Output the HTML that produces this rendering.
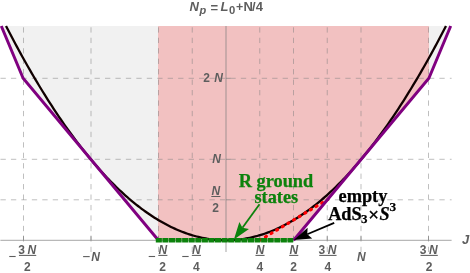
<!DOCTYPE html>
<html><head><meta charset="utf-8"><style>
html,body{margin:0;padding:0;background:#fff;}
svg{display:block;will-change:transform}
.lb{font-family:"Liberation Sans",sans-serif;font-weight:bold;font-size:12px;fill:#5e5e5e}
.it{font-style:italic}
.ser{font-family:"Liberation Serif",serif;font-weight:bold;font-size:18.3px}
</style></head><body>
<svg width="470" height="273" viewBox="0 0 470 273">
<rect width="470" height="273" fill="#fff"/>
<polygon points="1.29,26.00 23.12,78.30 158.38,240.30 158.0,240.3 158.0,26.0" fill="#f1f1f1"/>
<polygon points="450.71,26.00 428.88,78.30 429.0,78.30000000000001 429.0,26.0" fill="#f1f1f1"/>
<polygon points="158.0,26.0 158.0,240.3 293.62,240.30 428.88,78.30 429.0,77.30000000000001 429.0,26.0" fill="#f2c1c1"/>
<g stroke="#808080" stroke-opacity="0.5" stroke-width="1" stroke-dasharray="5.3 5.15" fill="none">
<line x1="23.50" y1="27.3" x2="23.50" y2="252.0"/>
<line x1="91.00" y1="27.3" x2="91.00" y2="252.0"/>
<line x1="158.50" y1="27.3" x2="158.50" y2="252.0"/>
<line x1="192.25" y1="27.3" x2="192.25" y2="252.0"/>
<line x1="259.75" y1="27.3" x2="259.75" y2="252.0"/>
<line x1="293.50" y1="27.3" x2="293.50" y2="252.0"/>
<line x1="327.25" y1="27.3" x2="327.25" y2="252.0"/>
<line x1="361.00" y1="27.3" x2="361.00" y2="252.0"/>
<line x1="428.50" y1="27.3" x2="428.50" y2="252.0"/>
<line x1="0.5" y1="199.80" x2="451.6" y2="199.80"/>
<line x1="0.5" y1="159.30" x2="451.6" y2="159.30"/>
<line x1="0.5" y1="78.30" x2="451.6" y2="78.30"/>
</g>
<g stroke="#808080" stroke-opacity="0.78" stroke-width="0.9">
<line x1="0.4" y1="240.3" x2="451.6" y2="240.3"/>
<line x1="226.0" y1="26.0" x2="226.0" y2="252.0"/>
<line x1="23.50" y1="240.3" x2="23.50" y2="235.70000000000002"/>
<line x1="91.00" y1="240.3" x2="91.00" y2="235.70000000000002"/>
<line x1="158.50" y1="240.3" x2="158.50" y2="235.70000000000002"/>
<line x1="192.25" y1="240.3" x2="192.25" y2="235.70000000000002"/>
<line x1="259.75" y1="240.3" x2="259.75" y2="235.70000000000002"/>
<line x1="293.50" y1="240.3" x2="293.50" y2="235.70000000000002"/>
<line x1="327.25" y1="240.3" x2="327.25" y2="235.70000000000002"/>
<line x1="361.00" y1="240.3" x2="361.00" y2="235.70000000000002"/>
<line x1="428.50" y1="240.3" x2="428.50" y2="235.70000000000002"/>
<line x1="226.0" y1="199.80" x2="230.6" y2="199.80"/>
<line x1="226.0" y1="159.30" x2="230.6" y2="159.30"/>
<line x1="226.0" y1="78.30" x2="230.6" y2="78.30"/>
</g>
<polyline points="6.01,26.00 7.84,29.56 9.68,33.08 11.51,36.58 13.34,40.05 15.17,43.49 17.01,46.89 18.84,50.27 20.67,53.62 22.51,56.94 24.34,60.23 26.17,63.49 28.01,66.72 29.84,69.92 31.67,73.09 33.51,76.23 35.34,79.34 37.17,82.42 39.01,85.47 40.84,88.49 42.67,91.48 44.51,94.44 46.34,97.37 48.17,100.28 50.01,103.15 51.84,105.99 53.67,108.80 55.51,111.59 57.34,114.34 59.17,117.06 61.01,119.76 62.84,122.42 64.67,125.05 66.51,127.66 68.34,130.23 70.17,132.78 72.01,135.29 73.84,137.78 75.67,140.23 77.51,142.66 79.34,145.06 81.17,147.42 83.01,149.76 84.84,152.06 86.67,154.34 88.51,156.59 90.34,158.81 92.17,160.99 94.01,163.15 95.84,165.28 97.67,167.38 99.50,169.45 101.34,171.49 103.17,173.49 105.00,175.47 106.84,177.42 108.67,179.34 110.50,181.23 112.34,183.09 114.17,184.92 116.00,186.73 117.84,188.50 119.67,190.24 121.50,191.95 123.34,193.63 125.17,195.28 127.00,196.90 128.84,198.50 130.67,200.06 132.50,201.59 134.34,203.10 136.17,204.57 138.00,206.01 139.84,207.43 141.67,208.81 143.50,210.16 145.34,211.49 147.17,212.78 149.00,214.05 150.84,215.28 152.67,216.49 154.50,217.66 156.34,218.81 158.17,219.93 160.00,221.01 161.84,222.07 163.67,223.10 165.50,224.09 167.34,225.06 169.17,226.00 171.00,226.91 172.84,227.78 174.67,228.63 176.50,229.45 178.34,230.24 180.17,231.00 182.00,231.73 183.83,232.43 185.67,233.10 187.50,233.74 189.33,234.35 191.17,234.93 193.00,235.48 194.83,236.00 196.67,236.49 198.50,236.95 200.33,237.38 202.17,237.78 204.00,238.16 205.83,238.50 207.67,238.81 209.50,239.09 211.33,239.35 213.17,239.57 215.00,239.76 216.83,239.93 218.67,240.06 220.50,240.17 222.33,240.24 224.17,240.29 226.00,240.30 227.83,240.29 229.67,240.24 231.50,240.17 233.33,240.06 235.17,239.93 237.00,239.76 238.83,239.57 240.67,239.35 242.50,239.09 244.33,238.81 246.17,238.50 248.00,238.16 249.83,237.78 251.67,237.38 253.50,236.95 255.33,236.49 257.17,236.00 259.00,235.48 260.83,234.93 262.67,234.35 264.50,233.74 266.33,233.10 268.17,232.43 270.00,231.73 271.83,231.00 273.66,230.24 275.50,229.45 277.33,228.63 279.16,227.78 281.00,226.91 282.83,226.00 284.66,225.06 286.50,224.09 288.33,223.10 290.16,222.07 292.00,221.01 293.83,219.93 295.66,218.81 297.50,217.66 299.33,216.49 301.16,215.28 303.00,214.05 304.83,212.78 306.66,211.49 308.50,210.16 310.33,208.81 312.16,207.43 314.00,206.01 315.83,204.57 317.66,203.10 319.50,201.59 321.33,200.06 323.16,198.50 325.00,196.90 326.83,195.28 328.66,193.63 330.50,191.95 332.33,190.24 334.16,188.50 336.00,186.73 337.83,184.92 339.66,183.09 341.50,181.23 343.33,179.34 345.16,177.42 347.00,175.47 348.83,173.49 350.66,171.49 352.50,169.45 354.33,167.38 356.16,165.28 357.99,163.15 359.83,160.99 361.66,158.81 363.49,156.59 365.33,154.34 367.16,152.06 368.99,149.76 370.83,147.42 372.66,145.06 374.49,142.66 376.33,140.23 378.16,137.78 379.99,135.29 381.83,132.78 383.66,130.23 385.49,127.66 387.33,125.05 389.16,122.42 390.99,119.76 392.83,117.06 394.66,114.34 396.49,111.59 398.33,108.80 400.16,105.99 401.99,103.15 403.83,100.28 405.66,97.37 407.49,94.44 409.33,91.48 411.16,88.49 412.99,85.47 414.83,82.42 416.66,79.34 418.49,76.23 420.33,73.09 422.16,69.92 423.99,66.72 425.83,63.49 427.66,60.23 429.49,56.94 431.33,53.62 433.16,50.27 434.99,46.89 436.83,43.49 438.66,40.05 440.49,36.58 442.32,33.08 444.16,29.56 445.99,26.00" fill="none" stroke="#100000" stroke-width="2.3"/>
<g fill="#f00"><line x1="259.82" y1="240.26" x2="327.75" y2="199.50" stroke="#f00" stroke-width="3.15" stroke-linecap="round" stroke-dasharray="1.1 5.46"/></g>
<polyline points="1.29,26.00 23.12,78.30 158.38,240.30" fill="none" stroke="#800080" stroke-width="2.95" stroke-linejoin="miter"/>
<polyline points="293.62,240.30 428.88,78.30 450.71,26.00" fill="none" stroke="#800080" stroke-width="2.95" stroke-linejoin="miter"/>
<line x1="155.8" y1="240.3" x2="293.2" y2="240.3" stroke="#0c820c" stroke-width="4.5" stroke-dasharray="6.08 0.5"/>
<!-- title -->
<g class="lb" style="font-size:13px"><text x="189.5" y="11.2" class="it">N</text><text x="199.6" y="13.9" class="it" style="font-size:11px">p</text><text x="210.6" y="11.6">=</text><text x="220.5" y="11.2" class="it">L</text><text x="229.1" y="14.2" style="font-size:11.3px">0</text><text x="236.1" y="11.2" style="font-size:12.4px">+</text><text x="243.5" y="11.2">N</text><text x="252" y="11.2">/</text><text x="255.7" y="11.2">4</text></g>
<text x="21.65" y="254.2" text-anchor="middle" class="lb">3</text><text x="31.85" y="254.2" text-anchor="middle" class="lb it">N</text><line x1="18.95" y1="255.4" x2="36.25" y2="255.4" stroke="#5e5e5e" stroke-width="1.05"/><text x="27.45" y="271.4" text-anchor="middle" class="lb">2</text><line x1="9.25" y1="256.5" x2="15.65" y2="256.5" stroke="#5e5e5e" stroke-width="1.1"/><text x="162.90" y="254.2" text-anchor="middle" class="lb it">N</text><line x1="158.30" y1="255.4" x2="167.40" y2="255.4" stroke="#5e5e5e" stroke-width="1.05"/><text x="162.70" y="271.4" text-anchor="middle" class="lb">2</text><line x1="148.70" y1="256.5" x2="155.10" y2="256.5" stroke="#5e5e5e" stroke-width="1.1"/><text x="196.45" y="254.2" text-anchor="middle" class="lb it">N</text><line x1="191.85" y1="255.4" x2="200.95" y2="255.4" stroke="#5e5e5e" stroke-width="1.05"/><text x="196.25" y="271.4" text-anchor="middle" class="lb">4</text><line x1="182.25" y1="256.5" x2="188.65" y2="256.5" stroke="#5e5e5e" stroke-width="1.1"/><text x="260.05" y="254.2" text-anchor="middle" class="lb it">N</text><line x1="255.45" y1="255.4" x2="264.55" y2="255.4" stroke="#5e5e5e" stroke-width="1.05"/><text x="259.85" y="271.4" text-anchor="middle" class="lb">4</text><text x="293.80" y="254.2" text-anchor="middle" class="lb it">N</text><line x1="289.20" y1="255.4" x2="298.30" y2="255.4" stroke="#5e5e5e" stroke-width="1.05"/><text x="293.60" y="271.4" text-anchor="middle" class="lb">2</text><text x="321.95" y="254.2" text-anchor="middle" class="lb">3</text><text x="332.15" y="254.2" text-anchor="middle" class="lb it">N</text><line x1="319.25" y1="255.4" x2="336.55" y2="255.4" stroke="#5e5e5e" stroke-width="1.05"/><text x="327.75" y="271.4" text-anchor="middle" class="lb">4</text><text x="423.20" y="254.2" text-anchor="middle" class="lb">3</text><text x="433.40" y="254.2" text-anchor="middle" class="lb it">N</text><line x1="420.50" y1="255.4" x2="437.80" y2="255.4" stroke="#5e5e5e" stroke-width="1.05"/><text x="429.00" y="271.4" text-anchor="middle" class="lb">2</text><text x="95.50" y="260.6" text-anchor="middle" class="lb it">N</text><line x1="83.10" y1="256.6" x2="89.70" y2="256.6" stroke="#5e5e5e" stroke-width="1.1"/><text x="361.30" y="260.6" text-anchor="middle" class="lb it">N</text><text x="206.60" y="82.4" text-anchor="middle" class="lb">2</text><text x="218.60" y="82.4" text-anchor="middle" class="lb it">N</text><text x="216.50" y="162.6" text-anchor="middle" class="lb it">N</text><text x="215.90" y="195.2" text-anchor="middle" class="lb it">N</text><line x1="211.30" y1="196.5" x2="220.40" y2="196.5" stroke="#5e5e5e" stroke-width="1.05"/><text x="215.50" y="212.3" text-anchor="middle" class="lb">2</text>
<text x="462" y="244" class="lb it" style="font-size:13px">J</text>
<!-- annotations -->
<g fill="#0c820c" stroke="#0c820c" stroke-width="0.25"><text x="276" y="186.8" text-anchor="middle" class="ser">R ground</text>
<text x="276.3" y="202.7" text-anchor="middle" class="ser">states</text></g>
<line x1="259.5" y1="204.2" x2="242.46" y2="227.77" stroke="#0c820c" stroke-width="1.8"/><polygon points="233.90,239.60 248.94,228.88 242.46,227.77 239.37,221.96" fill="#0c820c"/>
<g fill="#000" stroke="#000" stroke-width="0.25"><text x="338.6" y="201.5" class="ser">empty</text><text x="328.15" y="219.65" class="ser">AdS</text><text x="360.9" y="222.55" class="ser" style="font-size:13px">3</text><text x="368.3" y="221.05" class="ser" style="font-size:19px">×</text><text x="379.5" y="219.75" class="ser" style="font-style:italic">S</text><text x="389.4" y="211.2" class="ser" style="font-size:13.3px">3</text></g>
<line x1="334.2" y1="222.8" x2="307.25" y2="234.21" stroke="#000" stroke-width="1.8"/><polygon points="293.80,239.90 312.22,238.51 307.25,234.21 307.62,227.65" fill="#000"/>
</svg>
</body></html>
